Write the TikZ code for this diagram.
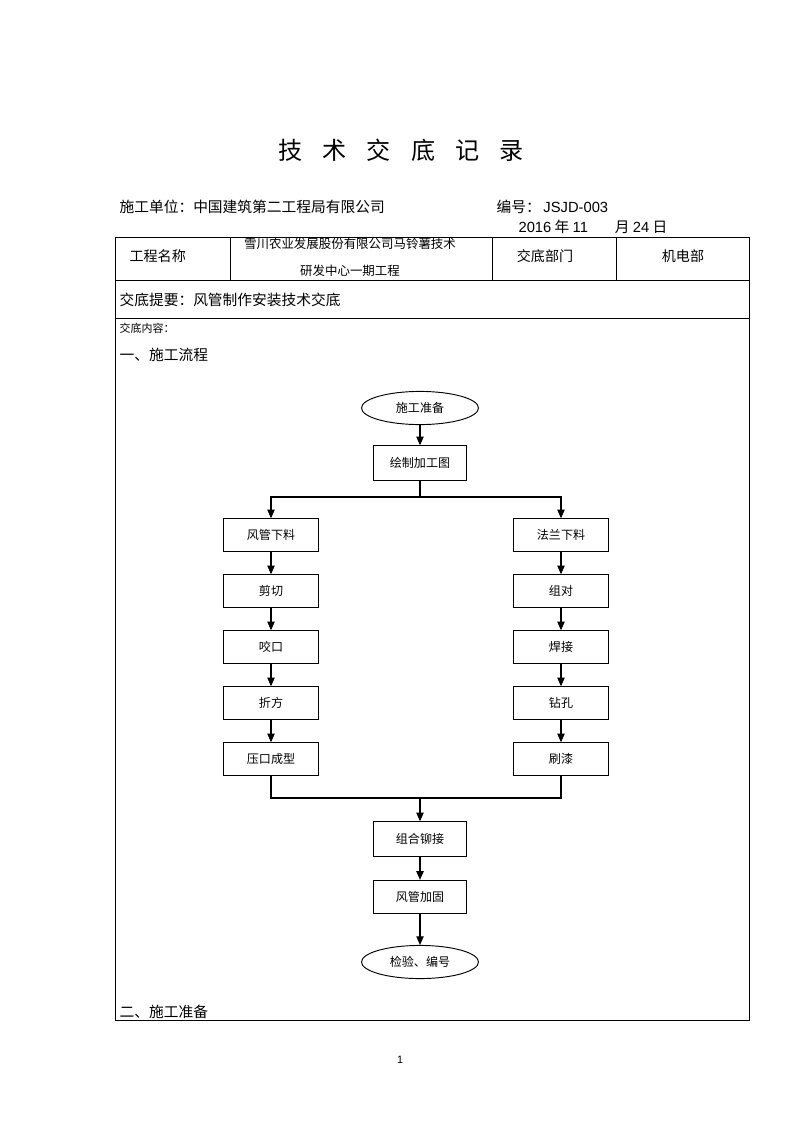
\documentclass[tikz,border=0pt]{standalone}
\usepackage{fontspec}
\setmainfont{Noto Sans CJK SC}
\newfontfamily\lat{Liberation Sans}
\usetikzlibrary{arrows.meta,shapes.geometric,positioning}

\begin{document}
\begin{tikzpicture}[x=0.02625cm,y=-0.02625cm,every node/.style={inner sep=1pt},
    >={Triangle[width=5.5pt,length=6.5pt]},
    box/.style={draw,line width=0.8pt,minimum width=2.47cm,minimum height=0.85cm,
      font=\fontsize{9}{11}\selectfont},
    term/.style={draw,ellipse,line width=0.7pt,minimum width=3.07cm,minimum height=0.87cm,
      font=\fontsize{9}{11}\selectfont},
    txt/.style={anchor=west,font=\fontsize{11}{13}\selectfont},
    link/.style={line width=0.9pt}]
  \useasboundingbox(0,0)rectangle(800,1133);
  % head
  \node(title)at(401,150){\fontsize{18}{20}\selectfont
    技\hspace{15pt}术\hspace{15pt}交\hspace{15pt}底\hspace{15pt}记\hspace{15pt}录};
  \node[txt](unit)at(118,207){施工单位：中国建筑第二工程局有限公司};
  \node[txt](num)at(495,207){编号：\hspace{2pt}{\lat JSJD-003}};
  \node[txt](date)at(517,227){{\lat 2016} 年 {\lat 11}\hspace{20pt}月 {\lat 24} 日};
  % table
  \draw[line width=0.7pt](115,237)rectangle(749,1020)(115,280)--(749,280)(115,318)--(749,318)
    (230,237)--(230,280)(492,237)--(492,280)(616,237)--(616,280);
  \node[txt,font=\fontsize{10.5}{12}\selectfont](name)at(128,256){工程名称};
  \node[align=center,font=\fontsize{9.3}{11}\selectfont](proj)at(350,257)
    {雪川农业发展股份有限公司马铃薯技术\\[9pt]研发中心一期工程};
  \node[font=\fontsize{10.5}{12}\selectfont](dept)at(545,256){交底部门};
  \node[font=\fontsize{10.5}{12}\selectfont](jdb)at(683,256){机电部};
  \node[txt](brief)at(118,300){交底提要：风管制作安装技术交底};
  \node[txt,font=\fontsize{8.2}{10}\selectfont](cont)at(118,328){交底内容：};
  \node[txt](sec1)at(118,355){一、施工流程};
  \node[txt](sec2)at(118,1012){二、施工准备};
  \node[font=\lat\fontsize{8}{10}\selectfont](page)at(400,1060){1};
  % flow
  \node[term](prep)at(420,408){施工准备};
  \node[box,minimum width=2.42cm,minimum height=0.9cm](plan)at(420,463){绘制加工图};
  \foreach \t[count=\i] in {风管下料,剪切,咬口,折方,压口成型}
    \node[box](a\i)at(271,{479+56*\i}){\t};
  \foreach \t[count=\i] in {法兰下料,组对,焊接,钻孔,刷漆}
    \node[box](b\i)at(561,{479+56*\i}){\t};
  \node[box,minimum width=2.42cm,minimum height=0.9cm](join)at(420,839){组合铆接};
  \node[box,minimum width=2.42cm,minimum height=0.87cm](fix)at(420,897){风管加固};
  \node[term](check)at(420,962){检验、编号};
  \coordinate(split)at(420,497);
  \coordinate(merge)at(420,798);
  \draw[link,->](prep)--(plan);
  \draw[link](plan)--(split);
  \draw[link,->](split)-|(a1);
  \draw[link,->](split)-|(b1);
  \foreach \i/\j in {1/2,2/3,3/4,4/5}{
    \draw[link,->](a\i)--(a\j);
    \draw[link,->](b\i)--(b\j);
  }
  \draw[link](a5)|-(merge)-|(b5);
  \draw[link,->](merge)--(join);
  \draw[link,->](join)--(fix);
  \draw[link,->](fix)--(check);
\end{tikzpicture}
\end{document}
